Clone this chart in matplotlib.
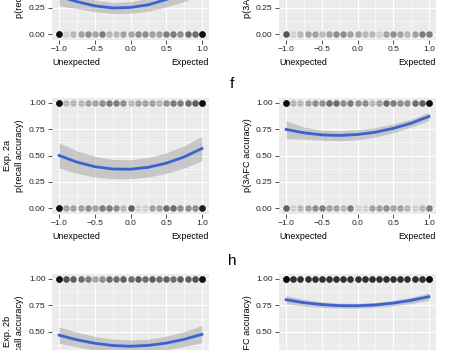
import matplotlib
matplotlib.use('Agg')
import matplotlib.pyplot as plt

plt.rcParams['font.family'] = ['Liberation Sans', 'DejaVu Sans']

# Values
xs = [-1.0, -0.75, -0.5, -0.25, 0.0, 0.25, 0.5, 0.75, 1.0]
strip_x = [-1.0, -0.9, -0.8, -0.7, -0.6, -0.5, -0.4, -0.3, -0.2, -0.1, 0.0,
           0.1, 0.2, 0.3, 0.4, 0.5, 0.6, 0.7, 0.8, 0.9, 1.0]

# row 1 (only the lower part is visible)
fit_1_recall = [0.36, 0.31, 0.27, 0.25, 0.255, 0.28, 0.33, 0.39, 0.47]
lo_1_recall = [0.27, 0.245, 0.215, 0.198, 0.20, 0.22, 0.26, 0.31, 0.37]
hi_1_recall = [0.45, 0.375, 0.325, 0.302, 0.31, 0.34, 0.40, 0.47, 0.57]
zero_1_recall = [20, 1, 2, 3, 4, 3, 5, 2, 2, 3, 3, 4, 4, 3, 3, 5, 5, 4, 6, 6, 20]

fit_1_afc = [0.80, 0.78, 0.77, 0.77, 0.78, 0.79, 0.81, 0.83, 0.85]
lo_1_afc = [0.72, 0.72, 0.72, 0.73, 0.74, 0.75, 0.77, 0.78, 0.79]
hi_1_afc = [0.87, 0.84, 0.82, 0.81, 0.82, 0.83, 0.85, 0.87, 0.90]
zero_1_afc = [8, 1, 2, 3, 3, 2, 3, 4, 4, 3, 3, 2, 2, 1, 3, 4, 3, 2, 3, 5, 5]

# Exp. 2a
fit_2a_recall = [0.50, 0.437, 0.394, 0.372, 0.37, 0.388, 0.427, 0.486, 0.566]
lo_2a_recall = [0.38, 0.33, 0.296, 0.28, 0.28, 0.296, 0.33, 0.381, 0.451]
hi_2a_recall = [0.62, 0.544, 0.492, 0.464, 0.46, 0.48, 0.524, 0.591, 0.681]
one_2a_recall = [20, 2, 2, 2, 3, 3, 4, 5, 5, 4, 2, 3, 3, 3, 2, 4, 5, 5, 6, 7, 20]
zero_2a_recall = [20, 3, 3, 3, 4, 3, 5, 5, 4, 2, 7, 1, 1, 3, 3, 6, 6, 4, 4, 4, 15]

fit_2a_afc = [0.747, 0.715, 0.695, 0.690, 0.699, 0.721, 0.757, 0.806, 0.870]
lo_2a_afc = [0.66, 0.655, 0.645, 0.64, 0.65, 0.675, 0.715, 0.77, 0.83]
hi_2a_afc = [0.83, 0.77, 0.74, 0.735, 0.745, 0.765, 0.80, 0.845, 0.91]
one_2a_afc = [20, 2, 2, 3, 4, 4, 6, 6, 4, 5, 4, 4, 2, 3, 6, 5, 4, 4, 6, 7, 20]
zero_2a_afc = [7, 1, 2, 3, 4, 5, 3, 3, 2, 5, 1, 1, 3, 3, 4, 3, 3, 2, 1, 2, 5]

# Exp. 2b (only the upper part is visible)
fit_2b_recall = [0.467, 0.423, 0.39, 0.369, 0.362, 0.37, 0.392, 0.427, 0.475]
lo_2b_recall = [0.39, 0.355, 0.327, 0.31, 0.305, 0.31, 0.33, 0.36, 0.395]
hi_2b_recall = [0.547, 0.495, 0.455, 0.43, 0.422, 0.43, 0.457, 0.50, 0.558]
one_2b_recall = [20, 8, 7, 6, 5, 3, 4, 6, 6, 7, 6, 7, 6, 7, 6, 7, 6, 7, 7, 8, 20]

fit_2b_afc = [0.803, 0.775, 0.757, 0.747, 0.746, 0.754, 0.771, 0.797, 0.832]
lo_2b_afc = [0.763, 0.743, 0.730, 0.723, 0.723, 0.730, 0.745, 0.767, 0.797]
hi_2b_afc = [0.843, 0.807, 0.784, 0.771, 0.769, 0.778, 0.797, 0.827, 0.867]
one_2b_afc = [25, 12, 12, 12, 12, 12, 12, 12, 12, 12, 12, 12, 12, 12, 12, 12, 12, 12, 12, 12, 25]

xtick_vals = [-1.0, -0.5, 0.0, 0.5, 1.0]
xtick_labels = ['\u22121.0', '\u22120.5', '0.0', '0.5', '1.0']
ytick_vals = [0.0, 0.25, 0.5, 0.75, 1.0]
ytick_labels = ['0.00', '0.25', '0.50', '0.75', '1.00']

W, H = 449, 350
fig = plt.figure(figsize=(W / 100, H / 100), dpi=100)


def panel(left, top, fit, lo, hi, strips, ylab, exp=None):
    # left/top in pixels from the top-left corner of the picture
    w, h = 157, 116
    ax = fig.add_axes([left / W, 1 - (top + h) / H, w / W, h / H])
    ax.set_facecolor('#EBEBEB')
    ax.set_xlim(-1.1, 1.1)
    ax.set_ylim(-0.05, 1.05)
    ax.set_xticks(xtick_vals)
    ax.set_xticklabels(xtick_labels)
    ax.set_yticks(ytick_vals)
    ax.set_yticklabels(ytick_labels)
    ax.set_xticks([-0.75, -0.25, 0.25, 0.75], minor=True)
    ax.set_yticks([0.125, 0.375, 0.625, 0.875], minor=True)
    ax.grid(which='major', color='white', linewidth=0.8)
    ax.grid(which='minor', color='white', linewidth=0.4)
    ax.set_axisbelow(True)
    for s in ax.spines.values():
        s.set_visible(False)
    ax.tick_params(which='major', length=2.6, width=0.6, color='#333333',
                   labelsize=6.1, labelcolor='#222222', pad=2)
    ax.tick_params(which='minor', length=0)

    for yv, counts in strips:
        for xv, n in zip(strip_x, counts):
            ax.scatter([xv] * n, [yv] * n, s=21, color='black', alpha=0.12,
                       linewidths=0, zorder=2)
    ax.fill_between(xs, lo, hi, color='#999999', alpha=0.45, linewidth=0, zorder=3)
    ax.plot(xs, fit, color='#3A62D0', linewidth=2.0, zorder=4)

    ax.text(0, -0.2, 'Unexpected', transform=ax.transAxes, ha='left', va='center',
            fontsize=6.4)
    ax.text(1, -0.2, 'Expected', transform=ax.transAxes, ha='right', va='center',
            fontsize=6.4)
    fig.text((left - 32) / W, 1 - (top + h / 2) / H, ylab, rotation=90,
             ha='center', va='center', fontsize=6.6)
    if exp:
        fig.text((left - 45) / W, 1 - (top + h / 2) / H, exp, rotation=90,
                 ha='center', va='center', fontsize=6.6)
    return ax


panel(52, -76.4, fit_1_recall, lo_1_recall, hi_1_recall, [(0, zero_1_recall)],
      'p(recall accuracy)', 'Exp. 1')
panel(279, -76.4, fit_1_afc, lo_1_afc, hi_1_afc, [(0, zero_1_afc)],
      'p(3AFC accuracy)')
panel(52, 97.5, fit_2a_recall, lo_2a_recall, hi_2a_recall,
      [(1, one_2a_recall), (0, zero_2a_recall)], 'p(recall accuracy)', 'Exp. 2a')
panel(279, 97.5, fit_2a_afc, lo_2a_afc, hi_2a_afc,
      [(1, one_2a_afc), (0, zero_2a_afc)], 'p(3AFC accuracy)')
panel(52, 273.7, fit_2b_recall, lo_2b_recall, hi_2b_recall,
      [(1, one_2b_recall)], 'p(recall accuracy)', 'Exp. 2b')
panel(279, 273.7, fit_2b_afc, lo_2b_afc, hi_2b_afc,
      [(1, one_2b_afc)], 'p(3AFC accuracy)')

fig.text(232 / W, 1 - 84.5 / H, 'f', ha='center', va='center', fontsize=11)
fig.text(232 / W, 1 - 261 / H, 'h', ha='center', va='center', fontsize=11)

plt.savefig('out.png', dpi=100)
